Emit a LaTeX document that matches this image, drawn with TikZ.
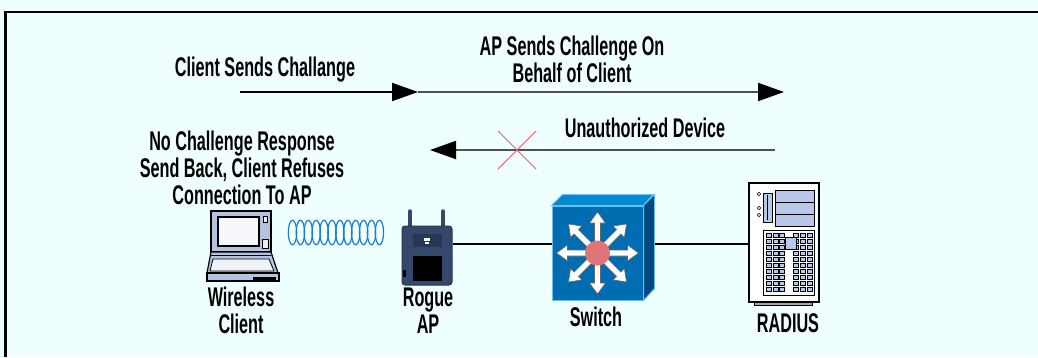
\documentclass[tikz,border=0pt]{standalone}
\usepackage{fontspec}
\newfontfamily\cond{Liberation Sans Bold}[FakeStretch=0.6]
\usetikzlibrary{arrows.meta}

\definecolor{bgcyan}{RGB}{239,254,254}
\definecolor{msggray}{RGB}{80,80,80}
\definecolor{crossred}{RGB}{240,90,90}
\definecolor{coilblue}{RGB}{30,125,200}
\definecolor{apnavy}{RGB}{52,72,108}
\definecolor{apdark}{RGB}{38,54,84}
\definecolor{lapblue}{RGB}{180,196,222}
\definecolor{swfront}{RGB}{0,108,178}
\definecolor{swtop}{RGB}{0,138,212}
\definecolor{swside}{RGB}{0,74,128}
\definecolor{swedge}{RGB}{110,190,240}
\definecolor{hubred}{RGB}{224,116,120}
\definecolor{bayblue}{RGB}{184,200,232}

\begin{document}
\begin{tikzpicture}[x=1pt,y=-1pt,
  lbl/.style={font=\cond\fontsize{27}{27}\selectfont, inner sep=0pt, align=center},
  msg/.style={line width=2pt, -{Triangle[length=26pt,width=18pt,color=black]}},
  wire/.style={line width=1.3pt},
  ol/.style={draw=black, line width=1.2pt, inner sep=0pt},
  hubarrow/.style={fill=white, draw=black!60, line width=0.6pt},
]

  % background and frame
  \fill[bgcyan] (0,0) rectangle (1038,357);
  \useasboundingbox (0,0) rectangle (1038,357);
  \draw[line width=2.5pt] (5.5,357) -- (5.5,12) -- (1038,12);

  % challenge messages
  \coordinate (m1) at (240,92);
  \coordinate (m2) at (418,92);
  \coordinate (m3) at (784,92);
  \draw[msg] (m1) -- (m2);
  \draw[msg, msggray] (m2) -- (m3);

  \coordinate (r1) at (775,150);
  \coordinate (r2) at (430,150);
  \draw[msg, msggray] (r1) -- (r2);
  \coordinate (x0) at (517,150);
  \draw[crossred, line width=0.8pt] (x0) +(-19,-19) -- +(19,19)
                                    (x0) +(-19,19) -- +(19,-19);

  \node[lbl, anchor=base] (tsend) at (265,76) {Client Sends Challange};
  \node[lbl, anchor=south] (tonbehalf) at (572,83) {AP Sends Challenge On\\Behalf of Client};
  \node[lbl, anchor=base] (tunauth) at (645,137) {Unauthorized Device};
  \node[lbl, anchor=south] (tnoresp) at (242,205)
    {No Challenge Response\\Send Back, Client Refuses\\Connection To AP};

  % laptop
  \node[ol, fill=lapblue, minimum width=60pt, minimum height=41pt] (client) at (241,231.5) {};
  \node[ol, fill=white!88!lapblue, minimum width=41pt, minimum height=29pt] (clientscr) at (238.5,231.5) {};
  \draw[fill=white!70!lapblue, line width=0.8pt] (263,216) rectangle (267,222);
  \draw[fill=white!70!lapblue, line width=0.8pt] (262,239) rectangle (268,248);
  \draw[ol, fill=lapblue] (211,252) -- (271,252) -- (278,273) -- (207,273) -- cycle;
  \draw[line width=0.8pt] (211,255) -- (271,255);
  \draw[line width=0.8pt, fill=white!80!lapblue] (213,259) -- (269,259) -- (274,271) -- (210,271) -- cycle;
  \draw[ol, fill=lapblue] (207,273) rectangle (279,281);
  \fill (253,276.5) rectangle (276,279.5);

  % radio link
  \foreach \i in {0,...,11}
    \draw[coilblue, line width=1.2pt] (292.5+\i*7.9,232.5) ellipse [x radius=4.2, y radius=12.3];

  % access point
  \draw[apnavy, line width=3.5pt, line cap=round] (410,211) -- (410,227) (443,211) -- (443,227);
  \node[draw=apdark, fill=apnavy, rounded corners=3pt, line width=1pt,
        minimum width=50pt, minimum height=59pt] (ap) at (427,255.5) {};
  \fill[apdark] (413,234) rectangle (442,247);
  \fill[white] (424,238) rectangle (430,241);
  \fill[white] (425,242) rectangle (429,243.5);
  \fill (413,256) rectangle (442,281);
  \fill (403,270) rectangle (406,277);

  % switch
  \node[fill=swfront, draw=swedge, line width=1pt, inner sep=0pt,
        minimum width=91pt, minimum height=94pt] (switch) at (597.5,253) {};
  \draw[swedge, fill=swtop, line width=1pt] (switch.north west) -- ++(11,-11) -- ++(91,0)
    -- (switch.north east) -- cycle;
  \draw[swedge, fill=swside, line width=1pt] (switch.north east) -- ++(11,-11) -- ++(0,94)
    -- (switch.south east) -- cycle;
  \coordinate (swside) at ([xshift=11pt]switch.east);
  \foreach \a in {0,45,...,315}{
    \begin{scope}[shift={(switch.center)}, rotate=\a]
      \draw[hubarrow] (10,-3) -- (30,-3) -- (30,-8) -- (41,0) -- (30,8) -- (30,3) -- (10,3) -- cycle;
    \end{scope}
  }
  \fill[hubred] (switch.center) circle [radius=12.5];

  % radius server
  \node[ol, fill=white, minimum width=70pt, minimum height=119pt] (radius) at (784,242.5) {};
  \draw[fill=black!35, line width=0.8pt] (754,302) rectangle (812,305);
  \draw[fill=bayblue, line width=0.8pt] (763,193) rectangle (772,222);
  \draw[line width=0.8pt] (767.5,195) -- (767.5,220);
  \foreach \y in {194,208,215}
    \draw[fill=white, line width=0.6pt] (759,\y) circle [radius=1.8];
  \foreach \y in {190,202,214}
    \draw[fill=bayblue, line width=0.8pt] (775,\y) rectangle (814,\y+12);
  \draw[line width=0.8pt] (763,230) rectangle (814,295);
  \foreach \r in {0,...,9}
    \foreach \c in {0,1,2,4,5,6}
      \draw[fill=bayblue, line width=0.5pt] (766+\c*6.8,233+\r*6) rectangle ++(5,4);
  \draw[fill=bayblue, line width=0.6pt] (785,237) rectangle (796,249);

  % cabling
  \coordinate (bus) at (0,244);
  \draw[wire] (ap.east |- bus) -- (switch.west |- bus);
  \draw[wire] (swside |- bus) -- (radius.west |- bus);

  % device names
  \node[lbl, anchor=south] (lclient) at (241,334) {Wireless\\Client};
  \node[lbl, anchor=south] (lap) at (428,334) {Rogue\\AP};
  \node[lbl, anchor=base] (lswitch) at (596,326) {Switch};
  \node[lbl, anchor=base] (lradius) at (788,332) {RADIUS};

\end{tikzpicture}
\end{document}
